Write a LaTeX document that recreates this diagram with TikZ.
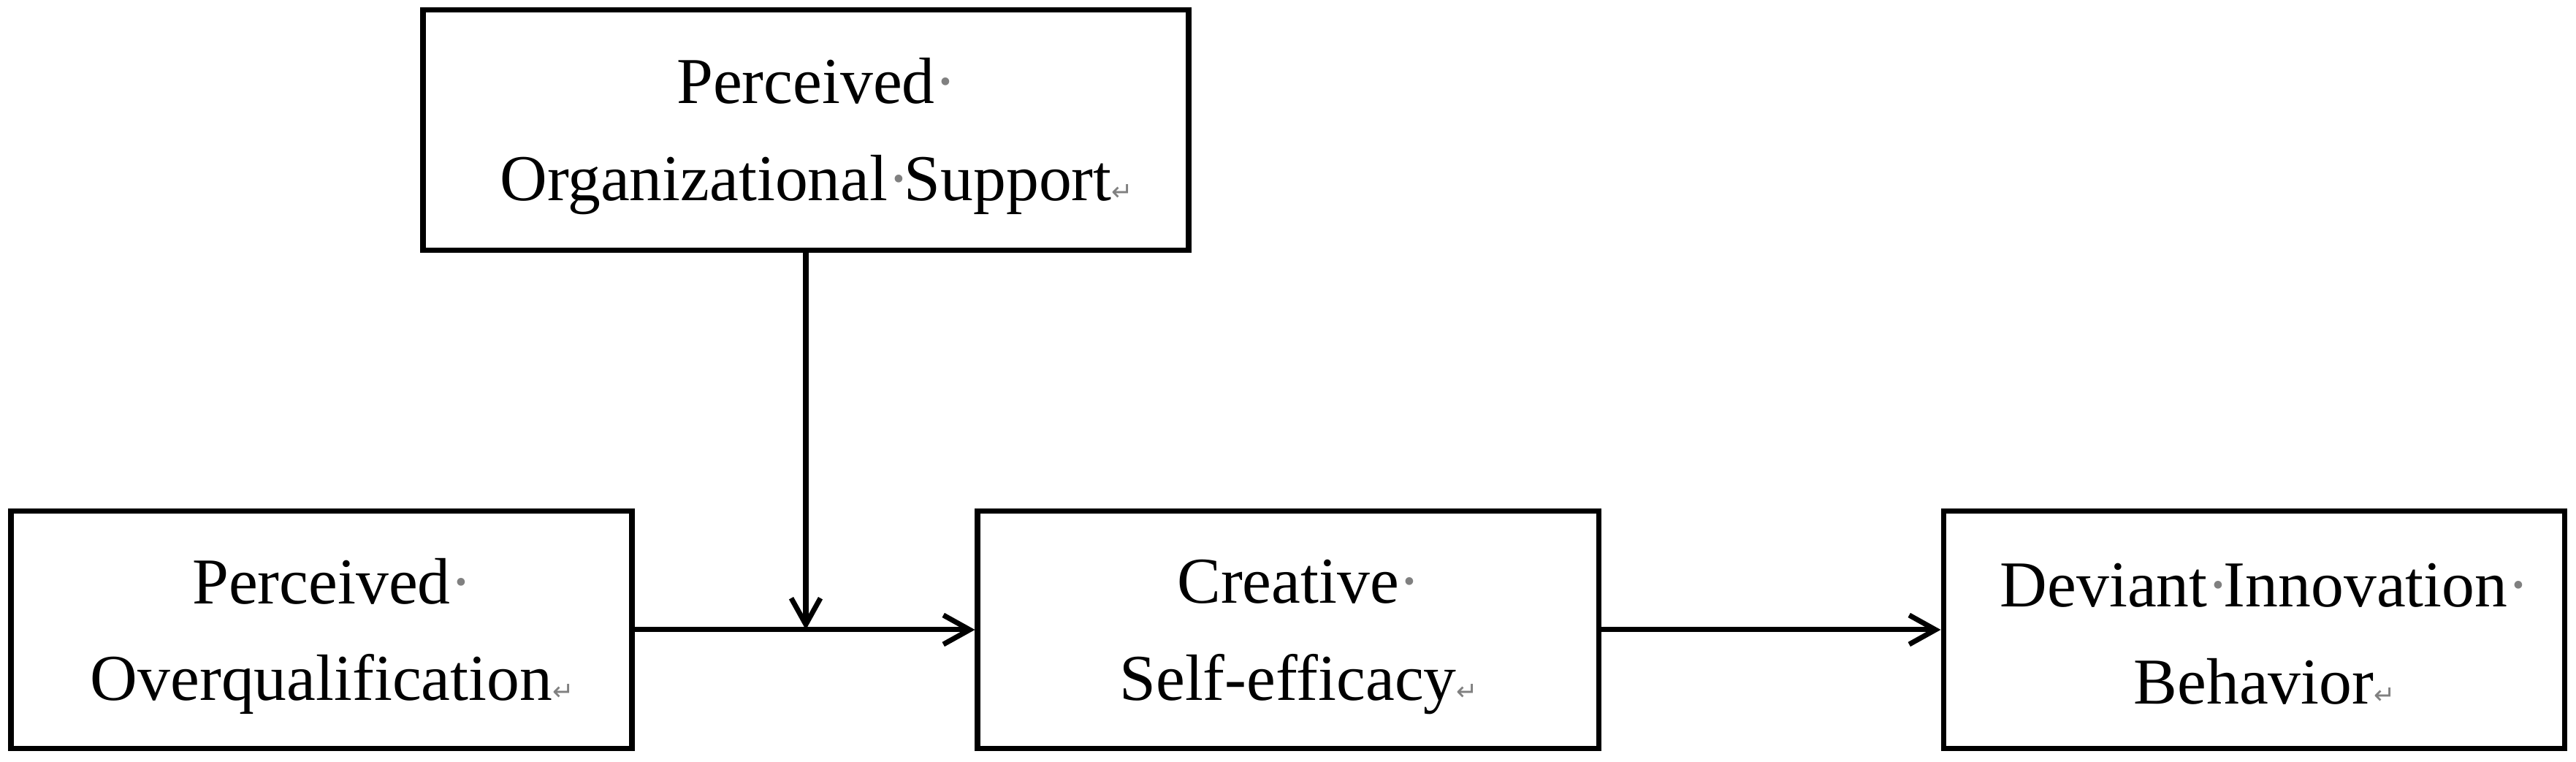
\documentclass[tikz,border=0pt]{standalone}
\usepackage{fontspec}
\setmainfont{Liberation Serif}
\newfontfamily\markfont{DejaVu Sans}
\usetikzlibrary{arrows.meta}
\newcommand{\spmark}{\rlap{\textcolor{gray}{\textperiodcentered}}}
\newcommand{\parmark}{\rlap{\markfont\fontsize{10pt}{10pt}\selectfont\textcolor{gray}{↵}}}
\newcommand{\tstrut}{\rule[-0.1cm]{0pt}{0.9cm}}
\begin{document}
\begin{tikzpicture}[factor/.style={draw,line width=2pt,minimum width=8.5cm,minimum height=3.25cm,inner sep=0pt,align=center,font=\fontsize{25.5pt}{37.8pt}\selectfont},
link/.style={line width=2pt,-{Straight Barb[length=0.36cm,width=0.4cm]}}]
\useasboundingbox (0,0) rectangle (35.26,10.43);
\node[factor,minimum width=10.48cm,minimum height=3.29cm] (pos) at (11.03,8.65) {\tstrut Perceived\spmark\\\tstrut Organizational\spmark{} Support\parmark};
\node[factor] (poq) at (4.40,1.81) {\tstrut Perceived\spmark\\\tstrut Overqualification\parmark};
\node[factor] (cse) at (17.63,1.81) {\tstrut Creative\spmark\\\tstrut Self-efficacy\parmark};
\node[factor] (dib) at (30.85,1.81) {\tstrut Deviant\spmark{} Innovation\spmark\\\tstrut Behavior\parmark};
\coordinate (mod) at (pos.south |- poq.east);
\draw[link] (poq.east) -- (cse.west);
\draw[link] (cse.east) -- (dib.west);
\draw[link] (pos.south) -- (mod);
\end{tikzpicture}
\end{document}
